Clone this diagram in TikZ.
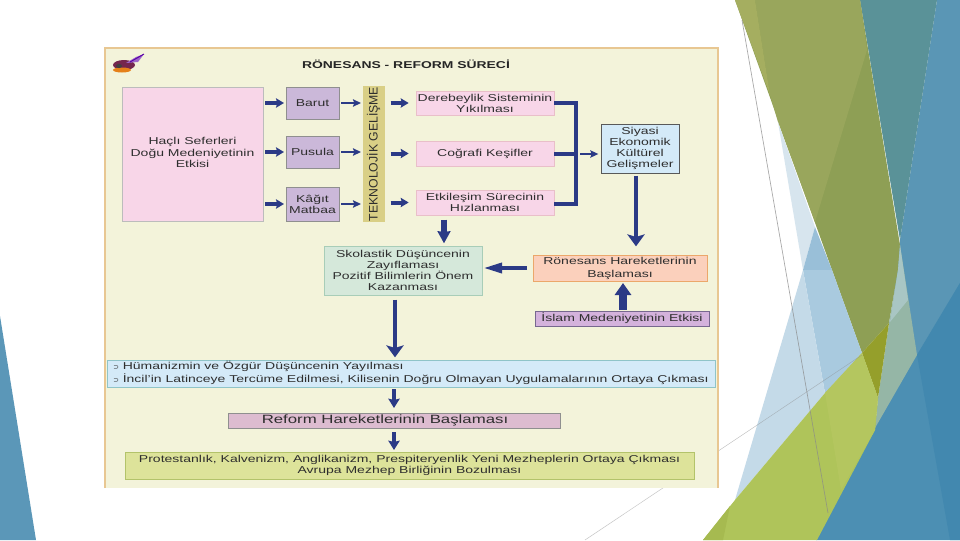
\documentclass[tikz,border=0pt]{standalone}
\usepackage{fontspec}
\setmainfont[FakeStretch=1.4]{Liberation Sans}
\newfontfamily\plainfont{Liberation Sans}
\newfontfamily\bulletfont{DejaVu Sans}
\usetikzlibrary{arrows.meta}
\definecolor{navyarrow}{HTML}{2B3A86}
\definecolor{txt}{HTML}{2E2E2E}
\definecolor{panelfill}{HTML}{F3F3DA}
\definecolor{panelline}{HTML}{E8C792}
\definecolor{pinkfill}{HTML}{F8D6E8}
\definecolor{pinkline}{HTML}{E9BFC9}
\definecolor{lilacfill}{HTML}{CBB8D9}
\definecolor{greyline}{HTML}{8F8F8F}
\definecolor{khaki}{HTML}{D9CF86}
\definecolor{skyfill}{HTML}{D4EAF8}
\definecolor{mintfill}{HTML}{D5E8DA}
\definecolor{mintline}{HTML}{A8CDB8}
\definecolor{salmon}{HTML}{FBD0BC}
\definecolor{salmonline}{HTML}{EBA76A}
\definecolor{violetfill}{HTML}{D4B2DC}
\definecolor{violetline}{HTML}{77688F}
\definecolor{bandline}{HTML}{8FC4C8}
\definecolor{reformfill}{HTML}{DDBCD0}
\definecolor{limefill}{HTML}{DDE39A}
\definecolor{limeline}{HTML}{B3C36A}
\definecolor{bgA}{HTML}{A5AE60}
\definecolor{bgB}{HTML}{99A65C}
\definecolor{bgC}{HTML}{8E9F55}
\definecolor{bgD}{HTML}{5A9298}
\definecolor{bgE}{HTML}{5A96B5}
\definecolor{bgF}{HTML}{4C8FB3}
\definecolor{bgG}{HTML}{4288AF}
\definecolor{bgH}{HTML}{95B6A6}
\definecolor{bgI}{HTML}{A9C6C4}
\definecolor{bgJ}{HTML}{959F2B}
\definecolor{bgK}{HTML}{D7E5EE}
\definecolor{bgL}{HTML}{99BFD8}
\definecolor{bgM}{HTML}{A9CADF}
\definecolor{bgN}{HTML}{C4DAE8}
\definecolor{bgO}{HTML}{AFC45A}
\definecolor{bgP}{HTML}{B4C65F}
\definecolor{bgQ}{HTML}{A6BA50}
\definecolor{bgR}{HTML}{5B97B8}
\definecolor{hairline}{HTML}{8A8A8A}
\tikzset{
  rbox/.style={draw=#1,line width=0.6pt,inner sep=0pt,outer sep=0pt,align=center,text=txt},
  conn/.style={draw=navyarrow,line width=3pt,shorten <=1.5pt,shorten >=1.5pt,-{Stealth[length=6pt,width=7pt,inset=1pt]}},
  smallconn/.style={draw=navyarrow,line width=1.9pt,shorten <=1.5pt,shorten >=1.5pt,-{Stealth[length=6pt,width=5.5pt,inset=1pt]}},
  longconn/.style={draw=navyarrow,line width=2.8pt,shorten <=1.5pt,shorten >=1.5pt,-{Stealth[length=9pt,width=13pt,inset=2pt]}},
  stubconn/.style={draw=navyarrow,line width=3pt,-{Stealth[length=7pt,width=8.5pt,inset=1pt]}},
  fatconn/.style={draw=navyarrow,line width=6pt,shorten <=1pt,shorten >=1.5pt,-{Stealth[length=9pt,width=12pt,inset=0pt]}},
  bar/.style={draw=navyarrow,line width=2.8pt},
}
\newcommand{\rb}[9]{\node[rbox=#2,fill=#3,font=#8,minimum width={(#6-#4)*0.75pt},minimum height={(#7-#5)*0.75pt}] (#1) at ({(#4+#6)/2},{(#5+#7)/2}) {#9};}
\newcommand{\fs}{\fontsize{7.5}{8.3}\selectfont}
\begin{document}
\begin{tikzpicture}[x=0.75pt,y=-0.75pt]
\useasboundingbox (0,0) rectangle (960,540);
\fill[white] (0,0) rectangle (960,540);
% left sliver
\fill[bgR] (0,316) -- (36,540) -- (0,540) -- cycle;
% right background shapes
\fill[bgE] (937,0) -- (960,0) -- (960,290) -- (880,420) -- (900,240) -- cycle;
\fill[bgD] (860,0) -- (937,0) -- (900,240) -- cycle;
\fill[bgC] (735,0) -- (860,0) -- (900,245) -- (898,270) -- (889,323) -- (862,353) -- (832,270) -- cycle;
\fill[bgB] (755,0) -- (860,0) -- (867,50) -- (815,222) -- (778,122) -- (770,95) -- cycle;
\fill[bgA] (735,0) -- (755,0) -- (770,95) -- cycle;
\fill[bgK] (778,122) -- (815,227) -- (803,270) -- cycle;
\fill[bgL] (815,227) -- (832,270) -- (803,270) -- cycle;
\fill[bgM] (803,270) -- (832,270) -- (862,353) -- (825,393) -- cycle;
\fill[bgN] (803,270) -- (825,393) -- (735,500) -- cycle;
\fill[bgF] (960,283) -- (960,540) -- (816,540) -- (878,417) -- (917,355) -- cycle;
\fill[bgG] (917,355) -- (960,283) -- (960,540) -- (950,540) -- cycle;
\fill[bgH] (900,245) -- (917,355) -- (875,428) -- (878,398) -- (889,323) -- (898,270) -- cycle;
\fill[bgI] (900,245) -- (908,300) -- (890,322) -- (898,270) -- cycle;
\fill[bgJ] (889,323) -- (878,398) -- (862,353) -- cycle;
\fill[bgO] (735,500) -- (825,393) -- (862,353) -- (878,398) -- (875,430) -- (817,540) -- (703,540) -- cycle;
\fill[bgP] (825,393) -- (862,353) -- (878,398) -- (875,430) -- (841,490) -- cycle;
\fill[bgQ] (730,506) -- (723,540) -- (703,540) -- cycle;
% hair lines
\coordinate (ta) at (742,20); \coordinate (tb) at (828,513);
\coordinate (tc) at (585,540); \coordinate (td) at (862,355);
\draw[hairline,line width=0.5pt,draw opacity=0.75] (ta) -- (tb);
\draw[hairline,line width=0.35pt,draw opacity=0.5] (tc) -- (td);
% panel
\fill[panelfill] (105,48) rectangle (718,488);
\draw[panelline,line width=0.9pt] (105,488) -- (105,48) -- (718,48) -- (718,488);
% quill icon
\fill[black!35!violet!70!brown] (124,65) ellipse (11 and 5);
\fill[orange!60!brown] (122,70) ellipse (9 and 2.5);
\fill[blue!30!violet!60] (126,63) -- (136,57) -- (144,54) -- (138,62) -- cycle;
\draw[violet!70!blue,line width=0.7pt] (130,62) -- (144,54);
\fill[black!75] (119,66) ellipse (3 and 2);
% title
\node[font=\fontsize{7.45}{9}\selectfont\bfseries,text=black!85] (title) at (406,64.5) {RÖNESANS - REFORM SÜRECİ};
% boxes
\rb{hacli}{greyline!60}{pinkfill}{122}{87}{263}{221}{\fontsize{7.5}{8.6}\selectfont}{\raisebox{2.2pt}{\begin{tabular}{@{}c@{}}Haçlı Seferleri\\Doğu Medeniyetinin\\Etkisi\end{tabular}}}
\rb{barut}{greyline}{lilacfill}{286}{87}{339}{119}{\fs}{Barut}
\rb{pusula}{greyline}{lilacfill}{286}{136}{339}{168}{\fs}{Pusula}
\rb{matbaa}{greyline}{lilacfill}{286}{187}{339}{221}{\fs}{Kâğıt\\Matbaa}
\rb{tek}{khaki}{khaki}{363}{87}{384}{221}{\plainfont\fontsize{9.2}{10}\selectfont}{\rotatebox{90}{TEKNOLOJİK GELİŞME}}
\rb{dere}{pinkline}{pinkfill}{416}{91}{554}{115}{\fs}{Derebeylik Sisteminin\\Yıkılması}
\rb{cog}{pinkline}{pinkfill}{416}{141}{554}{166}{\fs}{Coğrafi Keşifler}
\rb{etk}{pinkline}{pinkfill}{416}{190}{554}{215}{\fs}{Etkileşim Sürecinin\\Hızlanması}
\rb{siyasi}{black!65}{skyfill}{601}{124}{679}{173}{\fs}{\raisebox{-1.5pt}{\begin{tabular}{@{}c@{}}Siyasi\\Ekonomik\\Kültürel\\Gelişmeler\end{tabular}}}
\rb{skol}{mintline}{mintfill}{324}{246}{482}{295}{\fs}{Skolastik Düşüncenin\\Zayıflaması\\Pozitif Bilimlerin Önem\\Kazanması}
\rb{ron}{salmonline}{salmon}{533}{255}{707}{281}{\fontsize{7.5}{9.8}\selectfont}{Rönesans Hareketlerinin\\Başlaması}
\rb{islam}{violetline}{violetfill}{535}{311}{709}{326}{\fs}{İslam Medeniyetinin Etkisi}
\rb{band}{bandline}{skyfill}{107}{360}{715}{387}{\fontsize{7.5}{8.6}\selectfont}{\begin{tabular}{@{}l@{}}{\bulletfont\fontsize{5}{6}\selectfont ⊃} Hümanizmin ve Özgür Düşüncenin Yayılması\\{\bulletfont\fontsize{5}{6}\selectfont ⊃} İncil'in Latinceye Tercüme Edilmesi, Kilisenin Doğru Olmayan Uygulamalarının Ortaya Çıkması\end{tabular}}
\rb{reform}{greyline}{reformfill}{228}{413}{560}{428}{\fontsize{9}{10}\selectfont}{Reform Hareketlerinin Başlaması\hspace*{13.5pt}}
\rb{prot}{limeline}{limefill}{125}{452}{694}{479}{\fontsize{7.5}{8.4}\selectfont}{Protestanlık, Kalvenizm, Anglikanizm, Prespiteryenlik Yeni Mezheplerin Ortaya Çıkması\\Avrupa Mezhep Birliğinin Bozulması}
% connectors
\draw[conn] (hacli.east |- barut.west) -- (barut.west);
\draw[conn] (hacli.east |- pusula.west) -- (pusula.west);
\draw[conn] (hacli.east |- matbaa.west) -- (matbaa.west);
\draw[smallconn] (barut.east) -- (tek.west |- barut.east);
\draw[smallconn] (pusula.east) -- (tek.west |- pusula.east);
\draw[smallconn] (matbaa.east) -- (tek.west |- matbaa.east);
\draw[conn,shorten <=5pt,shorten >=5.5pt] (tek.east |- dere.west) -- (dere.west);
\draw[conn,shorten <=5pt,shorten >=5.5pt] (tek.east |- cog.west) -- (cog.west);
\draw[conn,shorten <=5pt,shorten >=5.5pt] (tek.east |- etk.west) -- (etk.west);
\coordinate (bara) at (576,103); \coordinate (barb) at (576,204); \coordinate (barm) at (576,154);
\draw[bar] (dere.east |- bara) -- (bara) -- (barb) -- (etk.east |- barb);
\draw[bar] (cog.east |- barm) -- (barm);
\draw[smallconn,line width=1.2pt,shorten <=3pt,shorten >=2pt] (barm) -- (siyasi.west |- barm);
\coordinate (sb) at (636,173); \coordinate (rt) at (636,255);
\draw[longconn,shorten <=2pt,shorten >=6.5pt] (sb) -- (rt);
\coordinate (eb) at (444,215); \coordinate (st) at (444,246);
\draw[longconn,line width=4.5pt,shorten <=3.5pt,shorten >=2pt,-{Stealth[length=9pt,width=9.5pt,inset=0.5pt]}] (eb) -- (st);
\draw[conn,line width=3.5pt,shorten <=4.5pt,shorten >=0pt,-{Stealth[length=15pt,width=7pt,inset=0pt]}] (ron.west) -- (skol.east |- ron.west);
\coordinate (it) at (623,311); \coordinate (rb) at (623,281);
\draw[fatconn] (it) -- (rb);
\coordinate (skb) at (395,295); \coordinate (bt) at (395,360);
\draw[longconn,shorten <=3.5pt,shorten >=2pt] (skb) -- (bt);
\coordinate (bb) at (394,387); \coordinate (ft) at (394,413); \coordinate (fb) at (394,428); \coordinate (pt) at (394,452);
\draw[stubconn,shorten <=1.5pt,shorten >=3.75pt] (bb) -- (ft);
\draw[stubconn,shorten <=3pt,shorten >=1.5pt] (fb) -- (pt);
\end{tikzpicture}
\end{document}
